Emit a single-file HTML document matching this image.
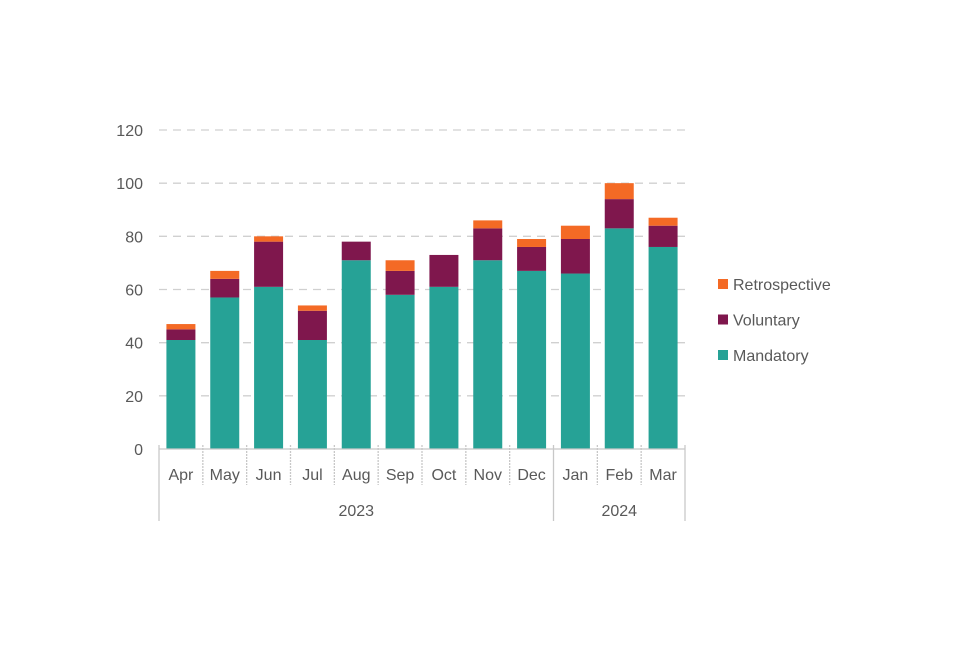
<!DOCTYPE html>
<html><head><meta charset="utf-8"><style>
body{margin:0;background:#fff}
svg text{font-family:"Liberation Sans",sans-serif;fill:#595959;font-size:16px}
</style></head><body>
<svg id="c" width="960" height="640"></svg>
<script>
const categories=["Apr","May","Jun","Jul","Aug","Sep","Oct","Nov","Dec","Jan","Feb","Mar"];
const years=["2023","2023","2023","2023","2023","2023","2023","2023","2023","2024","2024","2024"];
const mandatory=[41,57,61,41,71,58,61,71,67,66,83,76];
const voluntary=[4,7,17,11,7,9,12,12,9,13,11,8];
const retrospective=[2,3,2,2,0,4,0,3,3,5,6,3];
const yTicks=[0,20,40,60,80,100,120];
const seriesNames=["Mandatory","Voluntary","Retrospective"];
const colors=["#26a296","#7f174d","#f46a25"];
const NS="http://www.w3.org/2000/svg";
const svg=document.getElementById("c");
const x0=159,x1=685,y0=449,y1=130,yMax=120;
const bw=(x1-x0)/categories.length;
const y=v=>y0-(v/yMax)*(y0-y1);
function el(t,a,p){const e=document.createElementNS(NS,t);for(const k in a)e.setAttribute(k,a[k]);(p||svg).appendChild(e);return e;}
yTicks.forEach(t=>{
  if(t>0){const g=el("line",{x1:x0,x2:x1,y1:y(t),y2:y(t),stroke:"#d0d0d0","stroke-width":1.3,"stroke-dasharray":"8,6"});
  
  }
  const tx=el("text",{x:143,y:y(t)+6,"text-anchor":"end"});tx.textContent=t;
  
  
});
const data=[mandatory,voluntary,retrospective];
categories.forEach((c,i)=>{
  let base=0;const cx=x0+bw*(i+0.5);
  data.forEach((s,k)=>{
    if(s[i]>0){const r=el("rect",{x:cx-14.5,width:29,y:y(base+s[i]),height:y(base)-y(base+s[i]),fill:colors[k]});
    
    }
    base+=s[i];
  });
  const t=el("text",{x:cx,y:480,"text-anchor":"middle"});t.textContent=c;
  
  
});
const ax=el("line",{x1:x0,x2:x1,y1:y0,y2:y0,stroke:"#c8c8c8","stroke-width":1.3});


for(let i=0;i<=categories.length;i++){
  const xx=x0+bw*i;
  const outer=i===0||i===categories.length||years[i]!==years[i-1];
  const l=el("line",{x1:xx,x2:xx,y1:y0-4,y2:outer?521:485,stroke:"#c8c8c8","stroke-width":1.3,"stroke-dasharray":outer?"none":"2,1"});
  
  
}
// year groups
let start=0;
for(let i=1;i<=years.length;i++){
  if(i===years.length||years[i]!==years[start]){
    const t=el("text",{x:x0+bw*(start+i)/2,y:516,"text-anchor":"middle"});t.textContent=years[start];
    
    
    start=i;
  }
}
[2,1,0].forEach((k,j)=>{
  const yy=284+j*35.5;
  const r=el("rect",{x:718,y:yy-5,width:10,height:10,fill:colors[k]});
  
  
  const t=el("text",{x:733,y:yy+6});t.textContent=seriesNames[k];
  
  
});
</script>
</body></html>
